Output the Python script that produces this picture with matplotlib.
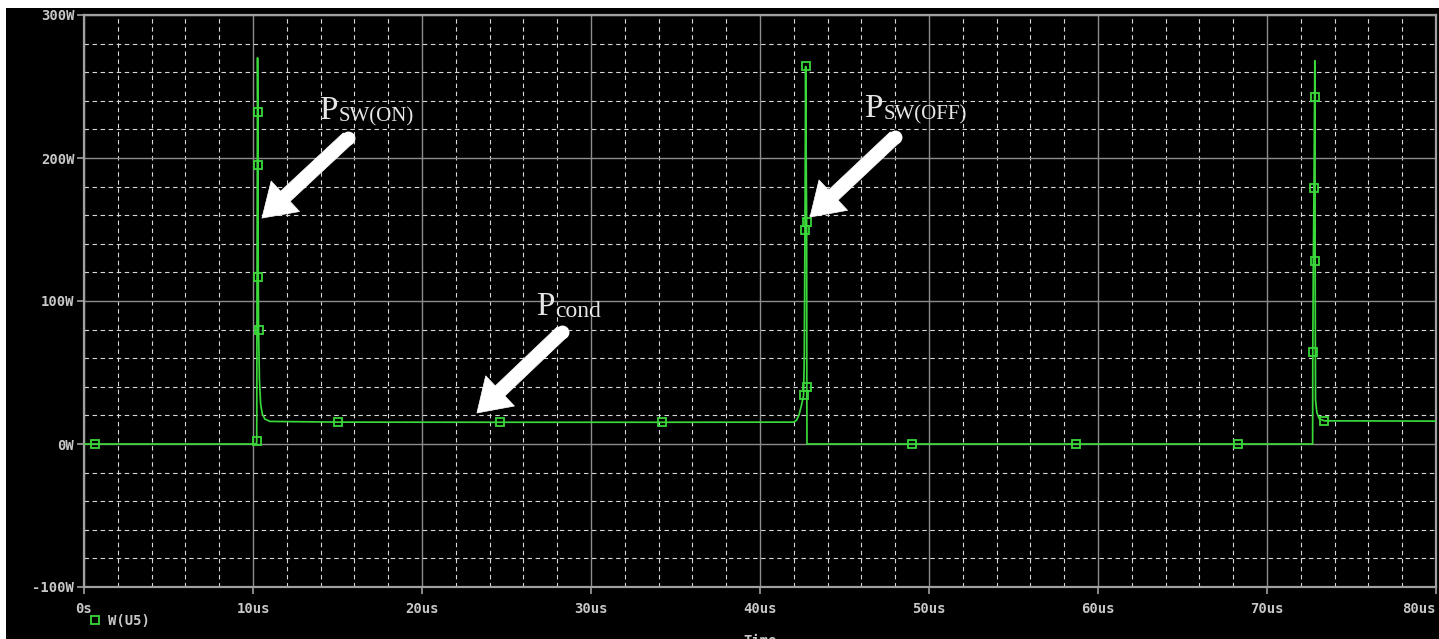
import matplotlib
matplotlib.use("Agg")
import matplotlib.pyplot as plt
from matplotlib.lines import Line2D
from matplotlib.patches import Rectangle
from matplotlib.ticker import MultipleLocator, FixedLocator

# ---- data: instantaneous switch power W(U5), time in microseconds ----
time_us = [0.0, 0.65, 10.20, 10.22, 10.24, 10.27, 10.29, 10.30, 10.31, 10.33,
           10.38, 10.45, 10.55, 10.70, 11.00, 15.00, 24.60, 34.20, 42.00, 42.15,
           42.30, 42.45, 42.58, 42.62, 42.66, 42.70, 42.74, 42.76, 42.77, 42.78,
           49.00, 58.70, 68.30, 72.70, 72.71, 72.74, 72.78, 72.83, 72.84, 72.85,
           72.87, 72.95, 73.10, 73.40, 80.00]
power_w = [0.0, 0.0, 0.0, 2.0, 120.0, 270.0, 232.0, 195.0, 117.0, 80.0,
           45.0, 28.0, 21.0, 17.5, 15.8, 15.3, 15.2, 15.2, 15.3, 16.5,
           20.0, 27.0, 34.0, 60.0, 150.0, 264.0, 186.0, 155.0, 40.0, 0.0,
           0.0, 0.0, 0.0, 0.0, 64.0, 124.0, 179.0, 268.0, 243.0, 128.0,
           31.0, 22.0, 17.5, 16.2, 16.0]
# samples that carry a trace symbol
marker_idx = [1, 3, 6, 7, 8, 9, 15, 16, 17, 22, 24, 25, 27, 28, 30, 31, 32,
              34, 36, 38, 39, 43]

trace_name = "W(U5)"
x_ticks = [0, 10, 20, 30, 40, 50, 60, 70, 80]
x_tick_labels = ["0s", "10us", "20us", "30us", "40us", "50us", "60us", "70us", "80us"]
y_ticks = [-100, 0, 100, 200, 300]
y_tick_labels = ["-100W", "0W", "100W", "200W", "300W"]

# annotations: (main letter, subscript, text anchor, sub anchor, arrow tail, arrow head)
notes = [
    ("P", "SW(ON)", (13.90, 227.5), (15.05, 225.5), (15.62, 214.0), (10.53, 158.0)),
    ("P", "SW(OFF)", (46.15, 229.0), (47.30, 227.0), (47.99, 214.7), (42.96, 158.7)),
    ("P", "cond", (26.75, 90.5), (27.90, 88.6), (28.28, 78.3), (23.25, 21.7)),
]

GREEN = "#3ad83a"
TXT = "#c8c8c8"
plt.rcParams["lines.scale_dashes"] = False

W, H = 1439, 639
fig = plt.figure(figsize=(W / 100, H / 100), dpi=100, facecolor="white")
fig.patches.append(Rectangle((6 / W, 0), 1, (H - 8) / H, transform=fig.transFigure,
                             facecolor="black", edgecolor="none", zorder=-10, figure=fig))

ax = fig.add_axes([84 / W, (H - 587) / H, (1436 - 84) / W, (587 - 15) / H])
ax.set_facecolor("black")
ax.set_xlim(0, 80)
ax.set_ylim(-100, 300)

ax.xaxis.set_major_locator(FixedLocator(x_ticks))
ax.yaxis.set_major_locator(FixedLocator(y_ticks))
ax.set_xticklabels(x_tick_labels)
ax.set_yticklabels(y_tick_labels)
ax.xaxis.set_minor_locator(MultipleLocator(2))
ax.yaxis.set_minor_locator(MultipleLocator(20))

ax.set_axisbelow(True)
ax.grid(which="major", color="#8c8c8c", linewidth=1.0, linestyle="-")
ax.grid(which="minor", color="#d8d8d8", linewidth=0.8, linestyle=(0, (3.2, 2.6)))

mono = dict(family="DejaVu Sans Mono", weight="bold", size=10)
ax.tick_params(which="major", direction="out", length=5, width=1.2, color="#a0a0a0",
               labelcolor=TXT, pad=2)
ax.tick_params(which="minor", length=0)
for lab in ax.get_xticklabels() + ax.get_yticklabels():
    lab.set_fontfamily(mono["family"])
    lab.set_fontweight(mono["weight"])
    lab.set_fontsize(mono["size"])
ax.tick_params(axis="x", pad=6)
# keep the last time label inside the window
ax.get_xticklabels()[-1].set_horizontalalignment("right")

for sp in ax.spines.values():
    sp.set_color("#a0a0a0")
    sp.set_linewidth(1.6)

ax.plot(time_us, power_w, color=GREEN, linewidth=1.25, marker="s", markersize=5.5,
        markerfacecolor="none", markeredgecolor=GREEN, markeredgewidth=1.3,
        markevery=marker_idx, label=trace_name, zorder=3)

ax.set_xlabel("Time", color=TXT, fontfamily="DejaVu Sans Mono", fontweight="bold",
              fontsize=10, labelpad=13)

# legend entry below the axis
proxy = Line2D([], [], linestyle="none", marker="s", markersize=5.5,
               markerfacecolor="none", markeredgecolor=GREEN, markeredgewidth=1.3)
ax.legend([proxy], [trace_name], loc="center left",
          bbox_to_anchor=(82 / W, (H - 621) / H), bbox_transform=fig.transFigure,
          frameon=False, handlelength=0.8, handletextpad=0.6, borderpad=0,
          prop=dict(family="DejaVu Sans Mono", weight="bold", size=10),
          labelcolor=TXT)

# arrows and labels
ANN = "#e6e6e6"
for main, sub, p_xy, s_xy, tail, head in notes:
    ax.text(p_xy[0], p_xy[1], main, color=ANN, family="Liberation Serif",
            fontsize=24, ha="left", va="baseline", zorder=5)
    ax.text(s_xy[0], s_xy[1], sub, color=ANN, family="Liberation Serif",
            fontsize=(17 if sub == "cond" else 15), ha="left", va="baseline", zorder=5)
    ax.annotate("", xy=head, xytext=tail,
                arrowprops=dict(arrowstyle="simple,head_length=1.15,head_width=1.5,tail_width=0.5",
                                mutation_scale=20, facecolor="white", edgecolor="white",
                                linewidth=0.5, shrinkA=0, shrinkB=0),
                zorder=6)
    ax.plot([tail[0]], [tail[1]], marker="o", markersize=10, color="white",
            markeredgewidth=0, zorder=6)

fig.savefig("out.png", dpi=100, facecolor=fig.get_facecolor())
